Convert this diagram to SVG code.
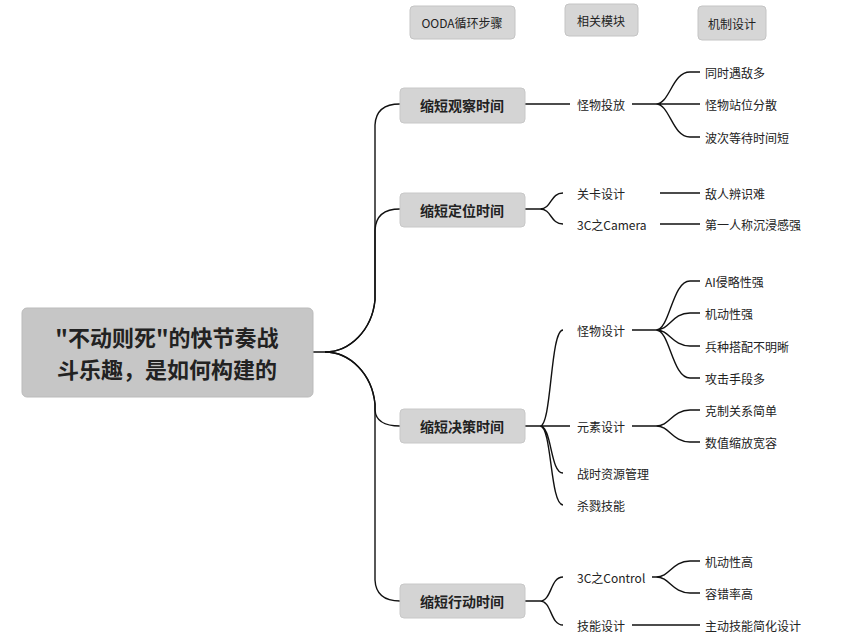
<svg xmlns="http://www.w3.org/2000/svg" width="865" height="633" viewBox="0 0 865 633">
<style>
text{font-family:"Noto Sans CJK SC","Noto Sans",sans-serif;fill:#222;dominant-baseline:central}
.h{fill:#d6d6d6;stroke:#c4c4c4}
.b{fill:#d4d4d4;stroke:#c8c8c8}
.t1{font-size:14px;font-weight:bold;text-anchor:middle}
.t2{font-size:12px}
.th{font-size:12px;text-anchor:middle}
.c path{fill:none;stroke:#111;stroke-width:1.4}
</style>
<rect width="865" height="633" fill="#fff"/>
<g id="h1"><rect class="h" x="410" y="6" width="105" height="33" rx="4"/><text class="th" x="462" y="22">OODA循环步骤</text></g>
<g id="h2"><rect class="h" x="565" y="4" width="73" height="32" rx="4"/><text class="th" x="601" y="20">相关模块</text></g>
<g id="h3"><rect class="h" x="698" y="6" width="68" height="34" rx="4"/><text class="th" x="732" y="23">机制设计</text></g>
<g class="c">
<path d="M313 352 H325 C350 352 372 330 375 300 V125 Q376 104 400 104"/>
<path d="M325 352 C350 352 372 330 375 300 V230 Q376 209 400 209"/>
<path d="M325 352 C350 352 372 374 375 404 V410 Q376 426 400 426"/>
<path d="M325 352 C350 352 372 374 375 404 V580 Q376 601 400 601"/>
<path d="M525 104 H570"/>
<path d="M632 104 H656 M656 104 C670 104 672 72 690 72 H700 M656 104 H700 M656 104 C670 104 672 137 690 137 H700"/>
<path d="M525 209 H540 C552 209 550 193 563 193 M540 209 C552 209 550 224 563 224"/>
<path d="M660 193 H700 M660 224 H700"/>
<path d="M525 426 H540 C552 426 550 330 563 330 M540 426 H570 M540 426 C552 426 550 473 563 473 M540 426 C552 426 550 505 563 505"/>
<path d="M632 330 H656 C670 330 672 281 690 281 H700 M656 330 C670 330 672 313 690 313 H700 M656 330 C670 330 672 346 690 346 H700 M656 330 C670 330 672 378 690 378 H700"/>
<path d="M632 426 H656 C670 426 672 410 690 410 H700 M656 426 C670 426 672 442 690 442 H700"/>
<path d="M525 601 H540 C552 601 550 577 563 577 M540 601 C552 601 550 625 563 625"/>
<path d="M652 577 H656 C670 577 672 561 690 561 H700 M656 577 C670 577 672 593 690 593 H700"/>
<path d="M632 625 H700"/>
</g>
<g id="root"><rect x="22" y="308" width="291" height="89" rx="5" fill="#c6c6c6" stroke="#bbb"/>
<text x="167" y="336" font-size="22" font-weight="bold" text-anchor="middle">"不动则死"的快节奏战</text>
<text x="167" y="368" font-size="22" font-weight="bold" text-anchor="middle">斗乐趣，是如何构建的</text></g>
<g id="n1"><rect class="b" x="400" y="88" width="125" height="35" rx="4"/><text class="t1" x="462" y="105">缩短观察时间</text></g>
<g id="n2"><rect class="b" x="400" y="193" width="125" height="34" rx="4"/><text class="t1" x="462" y="210">缩短定位时间</text></g>
<g id="n3"><rect class="b" x="400" y="409" width="125" height="34" rx="4"/><text class="t1" x="462" y="426">缩短决策时间</text></g>
<g id="n4"><rect class="b" x="400" y="584" width="125" height="34" rx="4"/><text class="t1" x="462" y="601">缩短行动时间</text></g>
<g class="t2">
<text x="577" y="104">怪物投放</text>
<text x="577" y="193">关卡设计</text><text x="577" y="224">3C之Camera</text>
<text x="577" y="330">怪物设计</text><text x="577" y="426">元素设计</text><text x="577" y="473">战时资源管理</text><text x="577" y="505">杀戮技能</text>
<text x="577" y="577">3C之Control</text><text x="577" y="625">技能设计</text>
<text x="705" y="72">同时遇敌多</text><text x="705" y="104">怪物站位分散</text><text x="705" y="137">波次等待时间短</text>
<text x="705" y="193">敌人辨识难</text><text x="705" y="224">第一人称沉浸感强</text>
<text x="705" y="281">AI侵略性强</text><text x="705" y="313">机动性强</text><text x="705" y="346">兵种搭配不明晰</text><text x="705" y="378">攻击手段多</text>
<text x="705" y="410">克制关系简单</text><text x="705" y="442">数值缩放宽容</text>
<text x="705" y="561">机动性高</text><text x="705" y="593">容错率高</text><text x="705" y="625">主动技能简化设计</text>
</g>
</svg>
